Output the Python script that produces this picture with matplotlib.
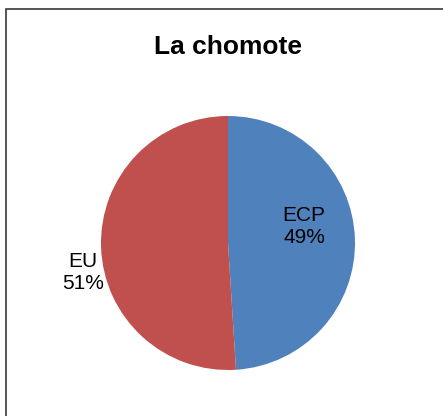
import matplotlib.pyplot as plt
from matplotlib.patches import Rectangle

plt.rcParams['font.family'] = ['Liberation Sans', 'DejaVu Sans']

title = 'La chomote'
names = ['ECP', 'EU']
shares = [49, 51]
colors = ['#4F81BD', '#C0504D']
# label positions (x, y) in axes data units, pie radius = 1
label_pos = [(0.60, 0.13), (-1.14, -0.23)]

W, H = 443, 416
fig = plt.figure(figsize=(W / 100, H / 100), dpi=100)

# chart border (only left and top edges visible in the crop)
fig.patches.append(Rectangle((6 / W, -0.1), 1.2, 1 - 9 / H + 0.1,
                             transform=fig.transFigure, fill=False,
                             edgecolor='#3a3a3a', linewidth=1.2))

cx, cy, r = 228, 243, 127
ax = fig.add_axes([(cx - r) / W, (H - cy - r) / H, 2 * r / W, 2 * r / H])
ax.pie(shares, colors=colors, startangle=90, counterclock=False, radius=1,
       wedgeprops=dict(linewidth=0))
ax.set_xlim(-1, 1)
ax.set_ylim(-1, 1)
ax.set_aspect('equal')
ax.axis('off')

for (x, y), n, s in zip(label_pos, names, shares):
    ax.text(x, y, f'{n}\n{s}%', ha='center', va='center', fontsize=15,
            linespacing=1.22, color='black')

fig.text(cx / W, 1 - 54 / H, title, ha='center', va='baseline',
         fontsize=19, fontweight='bold')

fig.savefig('out.png', dpi=100)
